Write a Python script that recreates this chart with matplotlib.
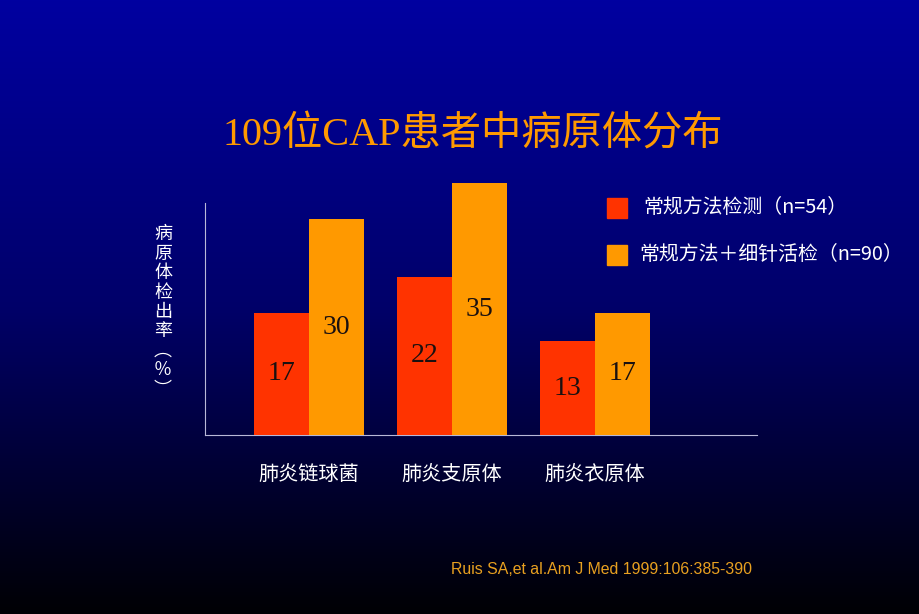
import numpy as np
import matplotlib
matplotlib.use("Agg")
import matplotlib.pyplot as plt
from matplotlib.colors import LinearSegmentedColormap
from matplotlib.patches import Rectangle

plt.rcParams['font.family'] = ['Noto Sans CJK SC', 'DejaVu Sans']

# ---- data ---------------------------------------------------------------
categories = ["肺炎链球菌", "肺炎支原体", "肺炎衣原体"]
routine = [17, 22, 13]          # 常规方法检测 (n=54)
routine_plus = [30, 35, 17]     # 常规方法＋细针活检 (n=90)
series_names = ["常规方法检测（n=54）", "常规方法＋细针活检（n=90）"]
title = "109位CAP患者中病原体分布"
ylabel = "病原体检出率︵％︶"
source = "Ruis SA,et al.Am J Med 1999:106:385-390"

RED = "#FF3300"
ORANGE = "#FF9900"
AXIS = "#B8B8D8"

fig = plt.figure(figsize=(9.2, 6.14), dpi=100)

# background gradient: blue at top fading to black
bg = fig.add_axes([0, 0, 1, 1])
cmap = LinearSegmentedColormap.from_list(
    "bg", [(0, (0, 0, 160 / 255)), (0.5, (0, 0, 105 / 255)), (1, (0, 0, 4 / 255))])
bg.imshow(np.linspace(0, 1, 256).reshape(-1, 1), aspect="auto", cmap=cmap,
          extent=[0, 1, 0, 1])
bg.set_axis_off()

# plot area: x axis 205..757 px, baseline at 435 px, top (35) at 183 px
ax = fig.add_axes([205 / 920, 1 - 435 / 614, 552 / 920, 252 / 614])
ax.set_facecolor("none")
x = np.arange(len(categories))
w = 0.385
ax.bar(x - w / 2, routine, w, color=RED, zorder=3)
ax.bar(x + w / 2, routine_plus, w, color=ORANGE, zorder=3)
for xi, v in zip(x - w / 2, routine):
    ax.text(xi, v / 2, str(v), ha="center", va="center", fontsize=20,
            family=["Liberation Serif"], color="#1a1010", zorder=4)
for xi, v in zip(x + w / 2, routine_plus):
    ax.text(xi, v / 2, str(v), ha="center", va="center", fontsize=20,
            family=["Liberation Serif"], color="#1a1010", zorder=4)

ax.set_xlim(-0.727, 3.133)
ax.set_ylim(0, 35)
for s in ["top", "right"]:
    ax.spines[s].set_visible(False)
ax.spines["left"].set_color(AXIS)
ax.spines["bottom"].set_color(AXIS)
ax.spines["left"].set_bounds(0, 32.2)
ax.set_yticks([])
ax.set_xticks(x, categories)
ax.tick_params(axis="x", length=0, pad=21, labelsize=14.5, labelcolor="white")

# title
fig.text(473 / 920, 1 - 135 / 614, title, ha="center", va="center",
         fontsize=29, color=ORANGE, fontweight="medium",
         family=["Liberation Serif", "Noto Sans CJK SC"])

# vertical y label, stacked characters
fig.text(163 / 920, 1 - 312 / 614, "\n".join(ylabel), ha="center", va="center",
         fontsize=13, color="white", linespacing=1.1)

# legend
for i, (name, col) in enumerate(zip(series_names, [RED, ORANGE])):
    yc = 208 + i * 47
    fig.patches.append(Rectangle((607 / 920, 1 - (yc + 10) / 614), 20 / 920, 20 / 614,
                                 transform=fig.transFigure, color=col))
    fig.text((643 - 4 * i) / 920, 1 - yc / 614, name, ha="left", va="center",
             fontsize=14.3, color="white")

# source
fig.text(752 / 920, 1 - 570 / 614, source, ha="right", va="center",
         fontsize=11.4, color="#E8A020", family=["Liberation Sans"])

fig.savefig("out.png", dpi=100)
